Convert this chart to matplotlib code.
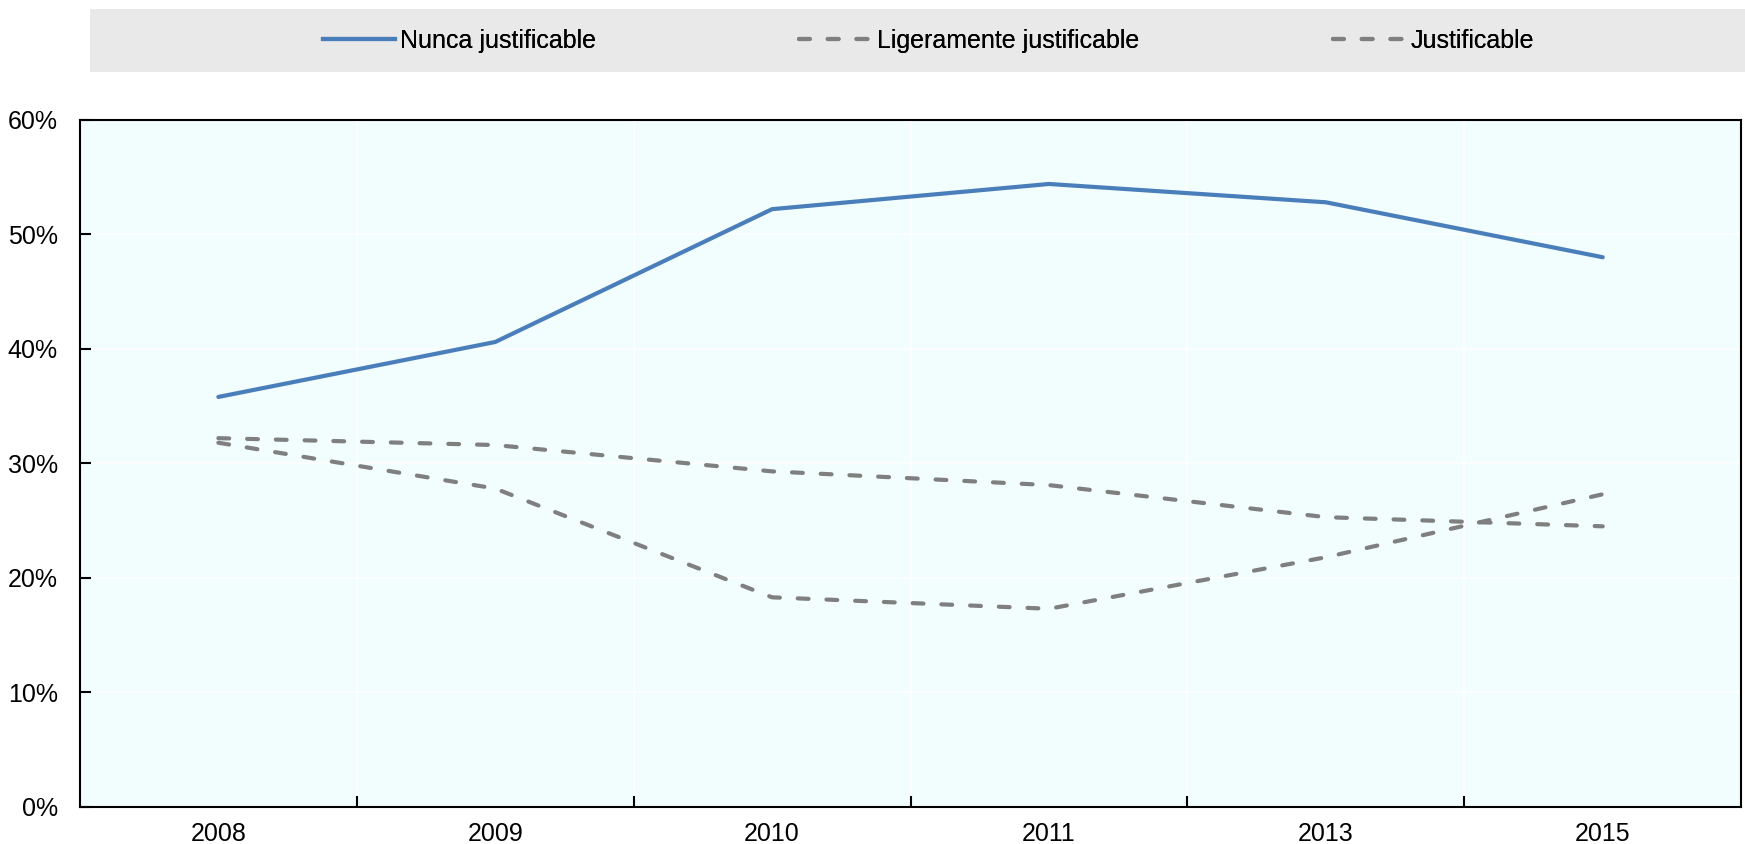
import numpy as np
import matplotlib.pyplot as plt
from matplotlib.patches import Rectangle
from matplotlib.lines import Line2D

plt.rcParams["font.family"] = ["Liberation Sans Narrow", "Liberation Sans", "DejaVu Sans"]

# survey years (categorical axis) and shares of respondents
years = ["2008", "2009", "2010", "2011", "2013", "2015"]
nunca = [35.8, 40.6, 52.2, 54.4, 52.8, 48.0]
ligeramente = [32.2, 31.6, 29.3, 28.1, 25.3, 24.5]
justificable = [31.8, 27.8, 18.3, 17.3, 21.8, 27.3]
labels = ["Nunca justificable", "Ligeramente justificable", "Justificable"]

blue = "#4a7ebb"
grey = "#7f7f7f"
dash = dict(dashes=(2.6, 4.3), dash_capstyle="round")

fig = plt.figure(figsize=(17.45, 8.44), dpi=100)
ax = fig.add_axes([0.0458, 0.044, 0.952, 0.814])
ax.set_facecolor("#f2fefe")

x = np.arange(len(years))
ax.plot(x, nunca, color=blue, lw=3, solid_capstyle="round")
ax.plot(x, ligeramente, color=grey, lw=3, **dash)
ax.plot(x, justificable, color=grey, lw=3, **dash)

ax.set_xlim(-0.5, len(years) - 0.5)
ax.set_ylim(0, 60)
ax.set_yticks(np.arange(0, 61, 10))
ax.set_yticklabels([f"{v}%" for v in range(0, 61, 10)])

# year labels centred, ticks on category boundaries
ax.set_xticks(x)
ax.set_xticklabels(years)
ax.set_xticks(np.arange(0.5, len(years) - 1, 1), minor=True)
ax.tick_params(axis="x", which="major", length=0, pad=11, labelsize=18)
ax.tick_params(axis="x", which="minor", direction="in", length=8, width=1.5)
ax.tick_params(axis="y", direction="in", length=8, width=1.5, pad=16, labelsize=18)

ax.grid(axis="y", color="white", lw=1.2)
ax.grid(axis="x", which="minor", color="white", lw=1.2)
ax.set_axisbelow(True)
for s in ax.spines.values():
    s.set_linewidth(1.5)
    s.set_color("black")

# legend strip across the top
fig.patches.append(Rectangle((0.0516, 0.9147), 0.9484, 0.0746, transform=fig.transFigure,
                             facecolor="#e9e9e9", edgecolor="none", zorder=0))
handles = [
    Line2D([], [], color=blue, lw=3),
    Line2D([], [], color=grey, lw=3, **dash),
    Line2D([], [], color=grey, lw=3, **dash),
]
for h, lab, xpos in zip(handles, labels, [0.185, 0.458, 0.764]):
    leg = fig.legend([h], [lab], loc="center left", bbox_to_anchor=(xpos, 0.952),
                     frameon=False, fontsize=18, handlelength=2.9, handletextpad=0.2,
                     borderpad=0, borderaxespad=0)
    fig.add_artist(leg)

fig.savefig("out.png", dpi=100)
